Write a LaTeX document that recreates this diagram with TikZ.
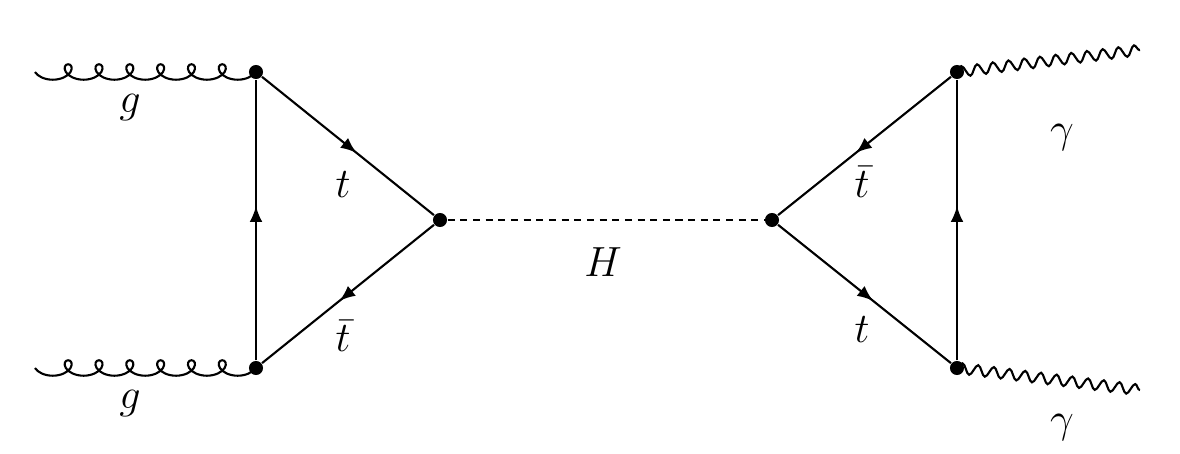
\documentclass[tikz,border=0pt]{standalone}
\usepackage{amsmath}
\usetikzlibrary{arrows.meta, decorations.pathmorphing, decorations.markings, positioning}

\begin{document}
\begin{tikzpicture}[
		dot/.style={circle, fill=black, inner sep=0pt, minimum size=4pt},
		fermion/.style={semithick, postaction={decorate},
			decoration={markings, mark=at position 0.55 with {\arrow{Latex[length=4.5pt,width=3.6pt]}}}},
		gluon/.style={semithick, decorate,
			decoration={coil, aspect=1.3, segment length=8.77pt, amplitude=2.2pt, mirror}},
		photon/.style={semithick, decorate,
			decoration={snake, segment length=4.5pt, amplitude=1.5pt}},
		scalar/.style={semithick, dash pattern=on 2pt off 1.6pt},
		lbl/.style={font=\large}
		]
		\useasboundingbox (0,0) rectangle (11.8,4.54);
		
		% Les sommets
		\node[dot] (A) at (2.56, 3.82) {};
		\node[dot] (B) at (2.56, 0.86) {};
		\node[dot] (C) at (4.40, 2.34) {};
		\node[dot] (D) at (7.72, 2.34) {};
		\node[dot] (E) at (9.57, 3.82) {};
		\node[dot] (F) at (9.57, 0.86) {};
		\coordinate (g1) at (0.35, 3.82);
		\coordinate (g2) at (0.35, 0.86);
		\coordinate (p1) at (11.40, 4.04);
		\coordinate (p2) at (11.40, 0.64);
		
		% Les lignes externes
		\draw[gluon] (g1) -- (A.center);
		\draw[gluon] (g2) -- (B.center);
		\draw[photon] (E.center) -- (p1);
		\draw[photon] (F.center) -- (p2);
		
		% La boucle de quarks
		\draw[fermion] (A) -- (C);
		\draw[fermion] (C) -- (B);
		\draw[fermion] (B) -- (A);
		\draw[fermion] (E) -- (D);
		\draw[fermion] (D) -- (F);
		\draw[fermion] (F) -- (E);
		
		% Le boson de Higgs
		\draw[scalar] (C) -- (D);
		
		% Les etiquettes
		\node[lbl] (lg1) at (1.30, 3.46) {$g$};
		\node[lbl] (lg2) at (1.30, 0.50) {$g$};
		\node[lbl] (lt1) at (3.43, 2.69) {$t$};
		\node[lbl] (lt2) at (3.43, 1.18) {$\bar{t}$};
		\node[lbl] (lH) at (6.03, 1.92) {$H$};
		\node[lbl] (lt3) at (8.62, 2.72) {$\bar{t}$};
		\node[lbl] (lt4) at (8.62, 1.24) {$t$};
		\node[lbl] (la1) at (10.62, 3.16) {$\gamma$};
		\node[lbl] (la2) at (10.62, 0.26) {$\gamma$};
	\end{tikzpicture}
\end{document}
